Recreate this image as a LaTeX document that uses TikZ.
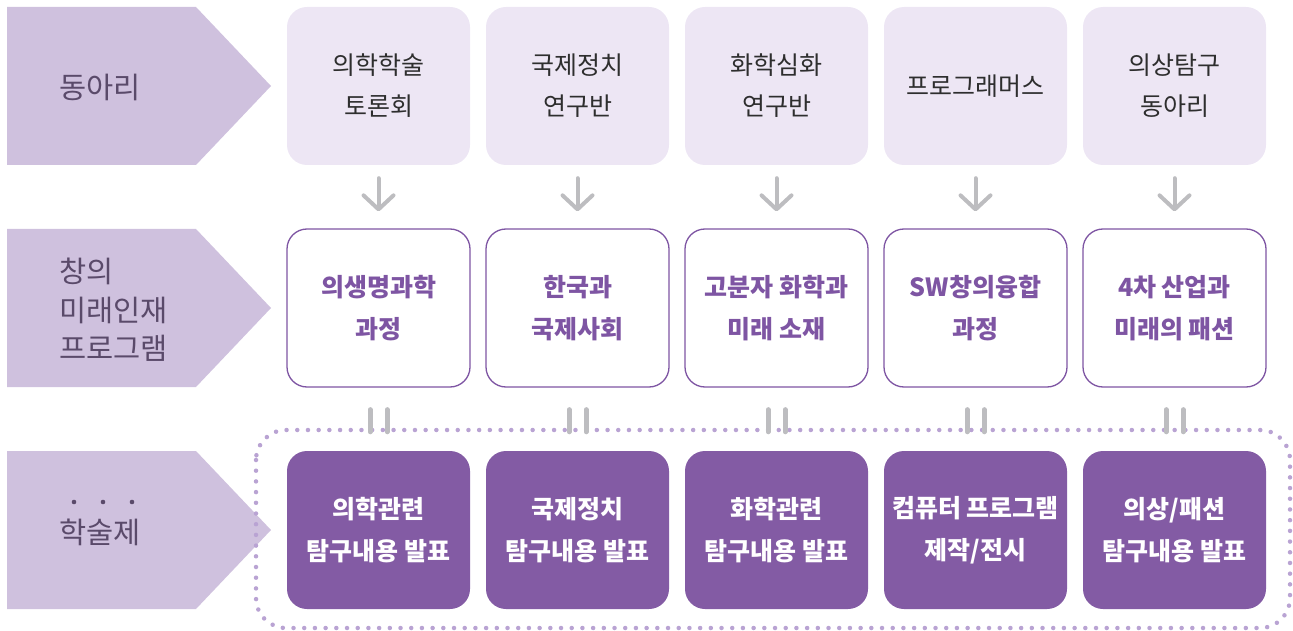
\documentclass[tikz,border=0pt]{standalone}
\usepackage{fontspec}
\newfontfamily\kr{Noto Sans CJK KR}
\usetikzlibrary{arrows.meta,calc}
\definecolor{chevfill}{HTML}{CFC1DE}
\definecolor{chevtext}{HTML}{5A4A6A}
\definecolor{lightbox}{HTML}{EDE6F4}
\definecolor{purp}{HTML}{835BA4}
\definecolor{purptext}{HTML}{7E55A3}
\definecolor{arrgray}{HTML}{BDBDC0}
\definecolor{dotcol}{HTML}{B9A3D3}
\definecolor{darktext}{HTML}{2E2E2E}
\tikzset{
  chev/.style={fill=chevfill},
  chevlabel/.style={anchor=west,align=left,text=chevtext,inner sep=0pt,font=\kr\fontsize{29.5}{38.5}\selectfont},
  boxbase/.style={minimum width=183pt,minimum height=158pt,rounded corners=20pt,align=center,inner sep=0pt,font=\kr\fontsize{25}{41}\selectfont},
  clubbox/.style={boxbase,fill=lightbox,text=darktext},
  progbox/.style={boxbase,draw=purptext,line width=1.3pt,fill=white,text=purptext,font=\kr\bfseries\fontsize{25}{41.5}\selectfont},
  festbox/.style={boxbase,fill=purp,text=white,font=\kr\bfseries\fontsize{25}{42}\selectfont},
  downarr/.style={draw=arrgray,line width=4pt,line cap=round,shorten <=13pt,shorten >=17pt,-{Straight Barb[length=14pt,width=30pt,line width=4pt,round]}},
  bars/.style={draw=arrgray,line width=5pt,line cap=round,shorten <=22pt,shorten >=19pt},
  dotframe/.style={draw=dotcol,line width=4.5pt,line cap=round,dash pattern=on 0pt off 10.7pt,rounded corners=30pt},
  emph/.style={fill=chevtext}
}
\begin{document}
\begin{tikzpicture}[x=1pt,y=-1pt]
\useasboundingbox (0,0) rectangle (1293,631);
% chevrons
\fill[chev] (7,7) -- (196,7) -- (271,86) -- (196,165) -- (7,165) -- cycle;
\fill[chev] (7,229) -- (196,229) -- (271,308) -- (196,387) -- (7,387) -- cycle;
\fill[chev] (7,451) -- (196,451) -- (271,530) -- (196,609) -- (7,609) -- cycle;
\node[chevlabel] (t1) at (59,87) {동아리};
\node[chevlabel] (t2) at (59,310) {창의\\미래인재\\프로그램};
\node[chevlabel] (t3) at (59,532) {학술제};
\fill[emph] (74,502) circle (2.3pt);
\fill[emph] (103,502) circle (2.3pt);
\fill[emph] (132,502) circle (2.3pt);
% dotted frame
\draw[dotframe] (256,430) rectangle (1290,628);
% row 1
\node[clubbox] (a1) at (378.5,86) {의학학술\\토론회};
\node[clubbox] (a2) at (577.5,86) {국제정치\\연구반};
\node[clubbox] (a3) at (776.5,86) {화학심화\\연구반};
\node[clubbox] (a4) at (975.5,86) {프로그래머스};
\node[clubbox] (a5) at (1174.5,86) {의상탐구\\동아리};
% row 2
\node[progbox] (b1) at (378.5,308) {의생명과학\\과정};
\node[progbox] (b2) at (577.5,308) {한국과\\국제사회};
\node[progbox] (b3) at (776.5,308) {고분자 화학과\\미래 소재};
\node[progbox] (b4) at (975.5,308) {SW창의융합\\과정};
\node[progbox] (b5) at (1174.5,308) {4차 산업과\\미래의 패션};
% row 3
\node[festbox] (c1) at (378.5,530) {의학관련\\탐구내용 발표};
\node[festbox] (c2) at (577.5,530) {국제정치\\탐구내용 발표};
\node[festbox] (c3) at (776.5,530) {화학관련\\탐구내용 발표};
\node[festbox] (c4) at (975.5,530) {컴퓨터 프로그램\\제작/전시};
\node[festbox] (c5) at (1174.5,530) {의상/패션\\탐구내용 발표};
% connectors
\foreach \i in {1,...,5}{
  \draw[downarr] (a\i.south) -- (b\i.north);
  \draw[bars] ([xshift=-8.5pt]b\i.south) -- ([xshift=-8.5pt]c\i.north);
  \draw[bars] ([xshift=8.5pt]b\i.south) -- ([xshift=8.5pt]c\i.north);
}
\end{tikzpicture}
\end{document}
